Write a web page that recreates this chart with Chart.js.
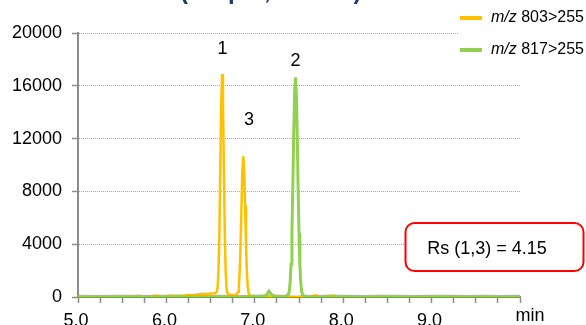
<!DOCTYPE html>
<html>
<head>
<meta charset="utf-8">
<script src="https://cdn.jsdelivr.net/npm/chart.js@4.4.1/dist/chart.umd.min.js"></script>
<style>
  html, body { margin: 0; padding: 0; background: #fff; }
  #wrap { width: 586px; height: 325px; }
</style>
</head>
<body>
<div id="wrap"><canvas id="chrom" width="586" height="325"></canvas></div>
<script>
// chromatogram traces (time in min, signal in counts)
const seriesNames = ['803>255', '817>255'];

const orangeTime = [
  5.00, 5.10, 5.20, 5.30, 5.40, 5.50, 5.60, 5.70, 5.72, 5.80, 5.90, 5.92, 6.00, 6.05, 6.10, 6.20,
  6.25, 6.30, 6.35, 6.40, 6.45, 6.50, 6.55, 6.57, 6.58, 6.59, 6.60, 6.61, 6.62, 6.63, 6.64, 6.65,
  6.66, 6.67, 6.68, 6.69, 6.70, 6.72, 6.75, 6.78, 6.80, 6.81, 6.82, 6.83, 6.84, 6.85, 6.86, 6.87,
  6.88, 6.89, 6.90, 6.91, 6.92, 6.93, 6.94, 6.96, 7.00, 7.10, 7.20, 7.30, 7.40, 7.45, 7.50, 7.55,
  7.60, 7.70, 7.72, 7.80, 7.90, 7.92, 8.00, 8.20, 8.40, 8.60, 8.80, 9.00, 9.20, 9.40, 9.60, 9.80, 10.00
];
const orangeSignal = [
  20, 10, 30, 15, 25, 20, 40, 90, 30, 60, 110, 40, 80, 120, 70, 110,
  150, 130, 200, 240, 220, 260, 280, 380, 780, 2100, 5080, 9700, 14700, 16900, 14800, 9900,
  5100, 2000, 700, 320, 210, 170, 150, 170, 250, 400, 860, 2030, 4150, 7040, 9680, 10650,
  9600, 6950, 4080, 1950, 780, 300, 150, 100, 80, 60, 90, 50, 40, 20, 30, 60,
  40, 120, 30, 50, 110, 30, 40, 30, 20, 40, 20, 30, 20, 40, 20, 30, 20
];

const greenTime = [
  5.00, 5.20, 5.40, 5.60, 5.80, 6.00, 6.20, 6.40, 6.60, 6.80, 7.00, 7.10, 7.13, 7.16, 7.19, 7.22,
  7.30, 7.35, 7.38, 7.39, 7.40, 7.41, 7.42, 7.43, 7.44, 7.45, 7.46, 7.47, 7.48, 7.49, 7.50, 7.51,
  7.52, 7.53, 7.54, 7.56, 7.60, 7.70, 7.80, 8.00, 8.20, 8.40, 8.60, 8.80, 9.00, 9.20, 9.40, 9.60,
  9.80, 10.00
];
const greenSignal = [
  50, 40, 60, 50, 40, 60, 50, 40, 50, 40, 60, 70, 150, 450, 180, 80,
  60, 80, 170, 440, 1100, 2480, 4900, 8380, 12300, 15450, 16650, 15400, 12200, 8300, 4850, 2450,
  1080, 420, 170, 70, 50, 40, 60, 50, 40, 60, 50, 40, 50, 60, 40, 50,
  40, 50
];

const yTicks = [0, 4000, 8000, 12000, 16000, 20000];
const xTickLabels = ['5.0', '6.0', '7.0', '8.0', '9.0'];

const ORANGE = '#FFC000';
const GREEN = '#92D050';
const FONT = '"Liberation Sans", Arial, sans-serif';

function toPoints(xs, ys) {
    return xs.map((x, i) => ({ x: x, y: ys[i] }));
}

// extra drawing: cut-off title, legend, peak numbers, Rs box, axis unit
const decorPlugin = {
    id: 'decor',
    afterDraw: (chart) => {
        const { ctx, scales: { x, y } } = chart;
        ctx.save();

        // title, mostly above the picture
        ctx.font = `bold 24px ${FONT}`;
        ctx.fillStyle = '#1F3B73';
        ctx.textBaseline = 'alphabetic';
        ctx.textAlign = 'left';
        ctx.fillText('Column (1.7 \u03bcm, 50 mm)', 84, -1);

        // legend
        ctx.fillStyle = '#fff';
        ctx.fillRect(458, 0, 128, 66);
        const colors = [ORANGE, GREEN];
        seriesNames.forEach((name, i) => {
            const ly = 18 + i * 32;
            ctx.strokeStyle = colors[i];
            ctx.lineWidth = 4;
            ctx.beginPath();
            ctx.moveTo(460, ly);
            ctx.lineTo(482, ly);
            ctx.stroke();
            ctx.fillStyle = '#000';
            ctx.textBaseline = 'middle';
            ctx.font = `italic 16px ${FONT}`;
            ctx.fillText('m/z', 491, ly);
            const w = ctx.measureText('m/z ').width;
            ctx.font = `16px ${FONT}`;
            ctx.fillText(name, 491 + w, ly);
        });

        // peak numbers
        ctx.font = `18px ${FONT}`;
        ctx.textAlign = 'center';
        ctx.fillStyle = '#000';
        [['1', 6.635, 18750], ['2', 7.46, 17900], ['3', 6.935, 13400]].forEach(([t, px, py]) => {
            ctx.fillText(t, x.getPixelForValue(px), y.getPixelForValue(py));
        });

        // resolution box
        ctx.beginPath();
        ctx.roundRect(405.5, 223, 178, 48, 9);
        ctx.fillStyle = '#fff';
        ctx.fill();
        ctx.strokeStyle = '#FF0000';
        ctx.lineWidth = 2;
        ctx.stroke();
        ctx.fillStyle = '#000';
        ctx.fillText('Rs (1,3) = 4.15', 487, 249);

        // axis unit
        ctx.textBaseline = 'alphabetic';
        ctx.fillText('min', 530, 321);

        ctx.restore();
    }
};

new Chart(document.getElementById('chrom'), {
    type: 'line',
    plugins: [decorPlugin],
    data: {
        datasets: [
            {
                label: seriesNames[0],
                data: toPoints(orangeTime, orangeSignal),
                borderColor: ORANGE,
                borderWidth: 2.5,
                pointRadius: 0,
                tension: 0,
                order: 1
            },
            {
                label: seriesNames[1],
                data: toPoints(greenTime, greenSignal),
                borderColor: GREEN,
                borderWidth: 3,
                pointRadius: 0,
                tension: 0,
                order: 0
            }
        ]
    },
    options: {
        responsive: false,
        animation: false,
        devicePixelRatio: 1,
        layout: { padding: { top: 33, right: 66, bottom: 0, left: 0 } },
        plugins: {
            legend: { display: false },
            tooltip: { enabled: false }
        },
        scales: {
            x: {
                type: 'linear',
                min: 5,
                max: 10,
                afterFit: (s) => { s.height = 28; },
                grid: { drawOnChartArea: false, tickLength: 6, tickColor: '#8c8c8c', tickWidth: 1.5 },
                border: { color: '#8c8c8c', width: 2 },
                ticks: {
                    stepSize: 0.25,
                    autoSkip: false,
                    maxRotation: 0,
                    padding: 7,
                    labelOffset: -2,
                    color: '#000',
                    font: { family: FONT, size: 18 },
                    callback: (v) => {
                        const idx = xTickLabels.indexOf(Number(v).toFixed(1));
                        return Number.isInteger(v) && idx >= 0 ? xTickLabels[idx] : '';
                    }
                }
            },
            y: {
                min: 0,
                max: 20000,
                afterFit: (s) => { s.width = 78; },
                afterBuildTicks: (s) => { s.ticks = yTicks.map(v => ({ value: v })); },
                grid: { color: '#a6a6a6', tickColor: '#8c8c8c', tickLength: 6, tickWidth: 1.5, tickBorderDash: [] },
                border: { color: '#8c8c8c', width: 2, dash: [1, 1] },
                ticks: {
                    padding: 10,
                    color: '#000',
                    font: { family: FONT, size: 18 },
                    callback: (v) => String(v)
                }
            }
        }
    }
});
</script>
</body>
</html>
